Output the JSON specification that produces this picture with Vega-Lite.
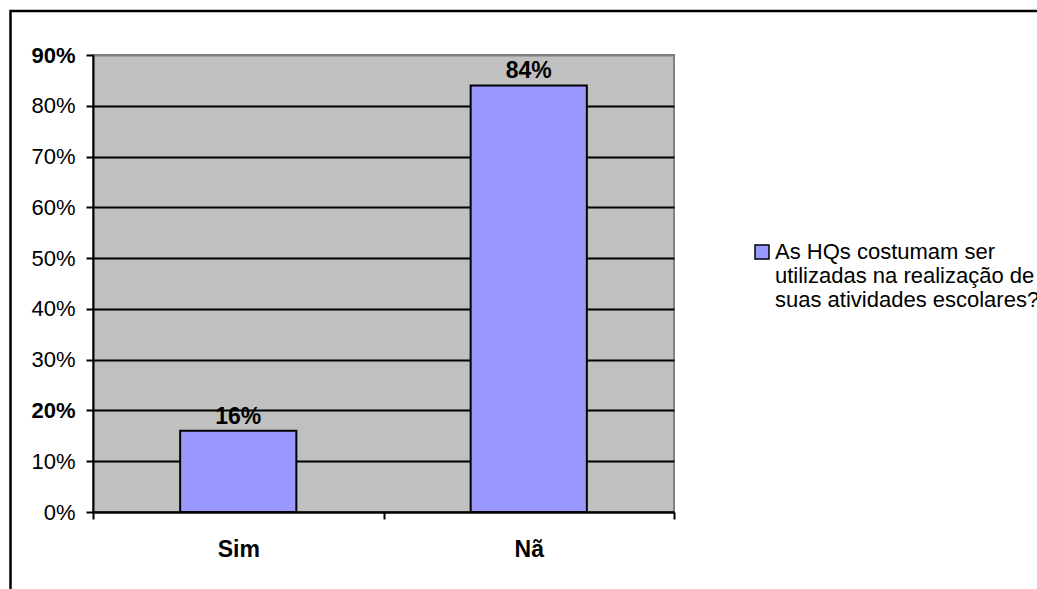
{
  "$schema": "https://vega.github.io/schema/vega-lite/v6.json",
  "autosize": {"type": "none"},
  "padding": {"left": 93, "top": 55, "right": 363, "bottom": 77},
  "width": 581,
  "height": 457,
  "background": "white",
  "config": {
    "font": "Liberation Sans",
    "view": {"fill": "#C0C0C0", "stroke": "#808080", "strokeWidth": 2},
    "style": {"guide-label": {"lineHeight": 24}}
  },
  "data": {
    "values": [
      {"resposta": "Sim", "valor": 0.16, "serie": "As HQs costumam ser utilizadas na realização de suas atividades escolares?"},
      {"resposta": "Nã", "valor": 0.84, "serie": "As HQs costumam ser utilizadas na realização de suas atividades escolares?"}
    ]
  },
  "encoding": {
    "x": {
      "field": "resposta",
      "type": "nominal",
      "sort": null,
      "scale": {"paddingInner": 0, "paddingOuter": 0},
      "axis": {
        "title": null,
        "labelAngle": 0,
        "labelFontSize": 23,
        "labelFontWeight": "bold",
        "labelColor": "black",
        "labelPadding": 19,
        "tickBand": "extent",
        "tickSize": 7,
        "tickWidth": 2,
        "tickColor": "black",
        "domainColor": "black",
        "domainWidth": 2,
        "grid": false
      }
    },
    "y": {
      "field": "valor",
      "type": "quantitative",
      "scale": {"domain": [0, 0.9], "nice": false},
      "axis": {
        "title": null,
        "values": [0, 0.1, 0.2, 0.3, 0.4, 0.5, 0.6, 0.7, 0.8, 0.9],
        "format": ".0%",
        "labelFontSize": 22,
        "labelColor": "black",
        "labelPadding": 11,
        "labelFontWeight": {
          "condition": {"test": "abs(datum.value - 0.9) < 0.001 || abs(datum.value - 0.2) < 0.001", "value": "bold"},
          "value": "normal"
        },
        "tickSize": 7,
        "tickWidth": 2,
        "tickColor": "black",
        "domainColor": "black",
        "domainWidth": 2,
        "grid": true,
        "gridWidth": 2,
        "gridOpacity": 1,
        "gridColor": {
          "condition": {"test": "datum.value >= 0.899", "value": "#808080"},
          "value": "black"
        }
      }
    }
  },
  "layer": [
    {
      "mark": {"type": "bar", "stroke": "black", "strokeWidth": 2, "width": {"band": 0.4}},
      "encoding": {
        "color": {
          "field": "serie",
          "type": "nominal",
          "scale": {"range": ["#9999FF"]},
          "legend": {
            "title": null,
            "orient": "none",
            "legendX": 658,
            "legendY": 186,
            "symbolType": "square",
            "symbolSize": 196,
            "symbolStrokeColor": "black",
            "symbolStrokeWidth": 1.5,
            "symbolOpacity": 1,
            "labelFontSize": 22,
            "labelColor": "black",
            "labelLimit": 0,
            "labelOffset": 2,
            "labelBaseline": "middle",
            "labelExpr": "['As HQs costumam ser', 'utilizadas na realização de', 'suas atividades escolares?']"
          }
        }
      }
    },
    {
      "mark": {"type": "text", "baseline": "alphabetic", "dy": -7, "fontSize": 23, "fontWeight": "bold", "color": "black"},
      "encoding": {
        "text": {"field": "valor", "type": "quantitative", "format": ".0%"}
      }
    },
    {
      "data": {"values": [{"moldura": "área do gráfico"}]},
      "mark": {"type": "rect", "fillOpacity": 0, "stroke": "black", "strokeWidth": 2.5, "clip": false},
      "encoding": {
        "x": {"value": -82.5},
        "x2": {"value": 1100},
        "y": {"value": -44},
        "y2": {"value": 700}
      }
    }
  ]
}
